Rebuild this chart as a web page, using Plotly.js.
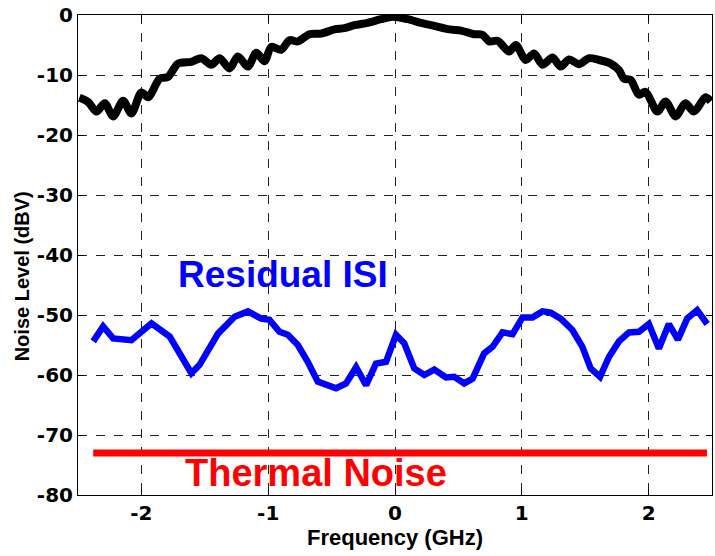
<!DOCTYPE html>
<html>
<head>
<meta charset="utf-8">
<script src="https://cdn.plot.ly/plotly-3.0.1.min.js"></script>
<style>html,body{margin:0;padding:0;background:#fff;}#chart{width:715px;height:556px;}</style>
</head>
<body>
<div id="chart"></div>
<script>
// Total noise (black)
const totalFreq = [-2.49, -2.42, -2.354, -2.289, -2.223, -2.144, -2.079, -2.0, -1.947, -1.855, -1.79, -1.711, -1.606, -1.528, -1.449, -1.383, -1.305, -1.239, -1.16, -1.094, -1.029, -0.976, -0.898, -0.832, -0.766, -0.675, -0.583, -0.478, -0.399, -0.32, -0.215, -0.11, -0.018, 0.1, 0.205, 0.31, 0.428, 0.52, 0.624, 0.69, 0.743, 0.809, 0.9, 0.953, 1.031, 1.097, 1.163, 1.242, 1.307, 1.372, 1.451, 1.53, 1.609, 1.701, 1.766, 1.806, 1.858, 1.924, 1.976, 2.069, 2.134, 2.213, 2.291, 2.357, 2.449, 2.49];
const totalNoise = [-13.8, -14.5, -16.1, -14.7, -16.9, -14.3, -16.4, -12.9, -13.7, -10.6, -10.3, -8.1, -7.8, -7.2, -8.3, -7.2, -8.9, -6.9, -8.6, -6.3, -7.7, -5.3, -5.8, -4.2, -4.4, -3.2, -3.1, -2.4, -2.2, -1.7, -1.3, -0.7, -0.3, -0.7, -1.3, -1.8, -2.4, -2.6, -3.2, -3.3, -4.4, -4.3, -6.1, -5.0, -7.5, -6.4, -8.3, -7.1, -8.6, -7.4, -8.2, -7.2, -7.5, -8.1, -9.2, -10.6, -10.8, -13.3, -12.8, -16.1, -14.4, -16.9, -14.7, -16.1, -13.7, -14.4];

// Residual ISI (blue)
const isiFreq = [-2.38, -2.302, -2.223, -2.079, -1.921, -1.777, -1.606, -1.541, -1.396, -1.265, -1.16, -1.055, -0.99, -0.911, -0.845, -0.766, -0.688, -0.609, -0.465, -0.386, -0.307, -0.228, -0.15, -0.071, 0.008, 0.073, 0.152, 0.231, 0.31, 0.402, 0.467, 0.546, 0.612, 0.703, 0.769, 0.848, 0.927, 1.006, 1.085, 1.163, 1.228, 1.307, 1.399, 1.478, 1.543, 1.617, 1.687, 1.766, 1.845, 1.924, 2.002, 2.081, 2.16, 2.231, 2.304, 2.383, 2.462];
const isiNoise = [-54.4, -51.9, -53.9, -54.2, -51.4, -53.6, -59.7, -58.3, -53.1, -50.3, -49.4, -50.6, -50.8, -52.8, -53.3, -55, -57.8, -61.1, -62.2, -61.4, -58.7, -61.7, -58.1, -57.8, -53.3, -54.7, -58.9, -60, -59.1, -60.4, -60.3, -61.4, -60.6, -56.4, -55.3, -52.9, -53.2, -50.4, -50.4, -49.4, -49.6, -50.6, -52.5, -55.3, -58.9, -60.3, -57, -54.4, -52.9, -52.8, -51.5, -55.6, -51.5, -54.1, -50.6, -49.2, -51.5];

// Thermal noise (red)
const thermalFreq = [-2.38, 2.46];
const thermalNoise = [-73, -73];

const xTicks = [-2, -1, 0, 1, 2];
const yTicks = [0, -10, -20, -30, -40, -50, -60, -70, -80];

const labels = [
  {text: 'Residual ISI', x: -0.886, y: -43.3, color: '#0000ff', size: 37},
  {text: 'Thermal Noise', x: -0.622, y: -76.4, color: '#ff0000', size: 38}
];

const FONT = 'Liberation Sans, Arial, sans-serif';
const TICKFONT = 'DejaVu Sans, sans-serif';

const traces = [
  {x: totalFreq, y: totalNoise, mode: 'lines', line: {color: '#000000', width: 8, shape: 'spline', smoothing: 0.8}, hoverinfo: 'skip'},
  {x: isiFreq, y: isiNoise, mode: 'lines', line: {color: '#0000ff', width: 6.5}, hoverinfo: 'skip'},
  {x: thermalFreq, y: thermalNoise, mode: 'lines', line: {color: '#ff0000', width: 7}, hoverinfo: 'skip'}
];

const axisCommon = {
  showline: true, mirror: 'ticks', linecolor: '#000', linewidth: 1,
  ticks: 'inside', ticklen: 6, tickcolor: '#000',
  showgrid: true, gridcolor: '#222', griddash: 'dash', gridwidth: 1,
  zeroline: false,
  tickfont: {family: TICKFONT, size: 20, color: '#000', weight: 'bold'}
};

const layout = {
  width: 715, height: 556,
  margin: {l: 78, r: 3, t: 15, b: 61},
  paper_bgcolor: '#fff', plot_bgcolor: '#fff',
  showlegend: false,
  font: {family: FONT, color: '#000'},
  xaxis: Object.assign({}, axisCommon, {
    range: [-2.5, 2.5], tickvals: xTicks, ticktext: xTicks.map(String),
    title: {text: 'Frequency (GHz)', font: {family: FONT, size: 22, color: '#000', weight: 'bold'}, standoff: 1}
  }),
  yaxis: Object.assign({}, axisCommon, {
    range: [-80, 0], tickvals: yTicks, ticktext: yTicks.map(String)
  }),
  annotations: labels.map(l => ({
    x: l.x, y: l.y, xref: 'x', yref: 'y', text: l.text, showarrow: false,
    xanchor: 'center', yanchor: 'middle',
    font: {family: FONT, size: l.size, color: l.color, weight: 'bold'}
  })).concat([{
    text: 'Noise Level (dBV)', xref: 'paper', yref: 'paper', x: -0.088, y: 0.456,
    xanchor: 'center', yanchor: 'middle', textangle: -90, showarrow: false,
    font: {family: FONT, size: 20, color: '#000', weight: 'bold'}
  }])
};

Plotly.newPlot('chart', traces, layout, {displayModeBar: false, staticPlot: true});
</script>
</body>
</html>
